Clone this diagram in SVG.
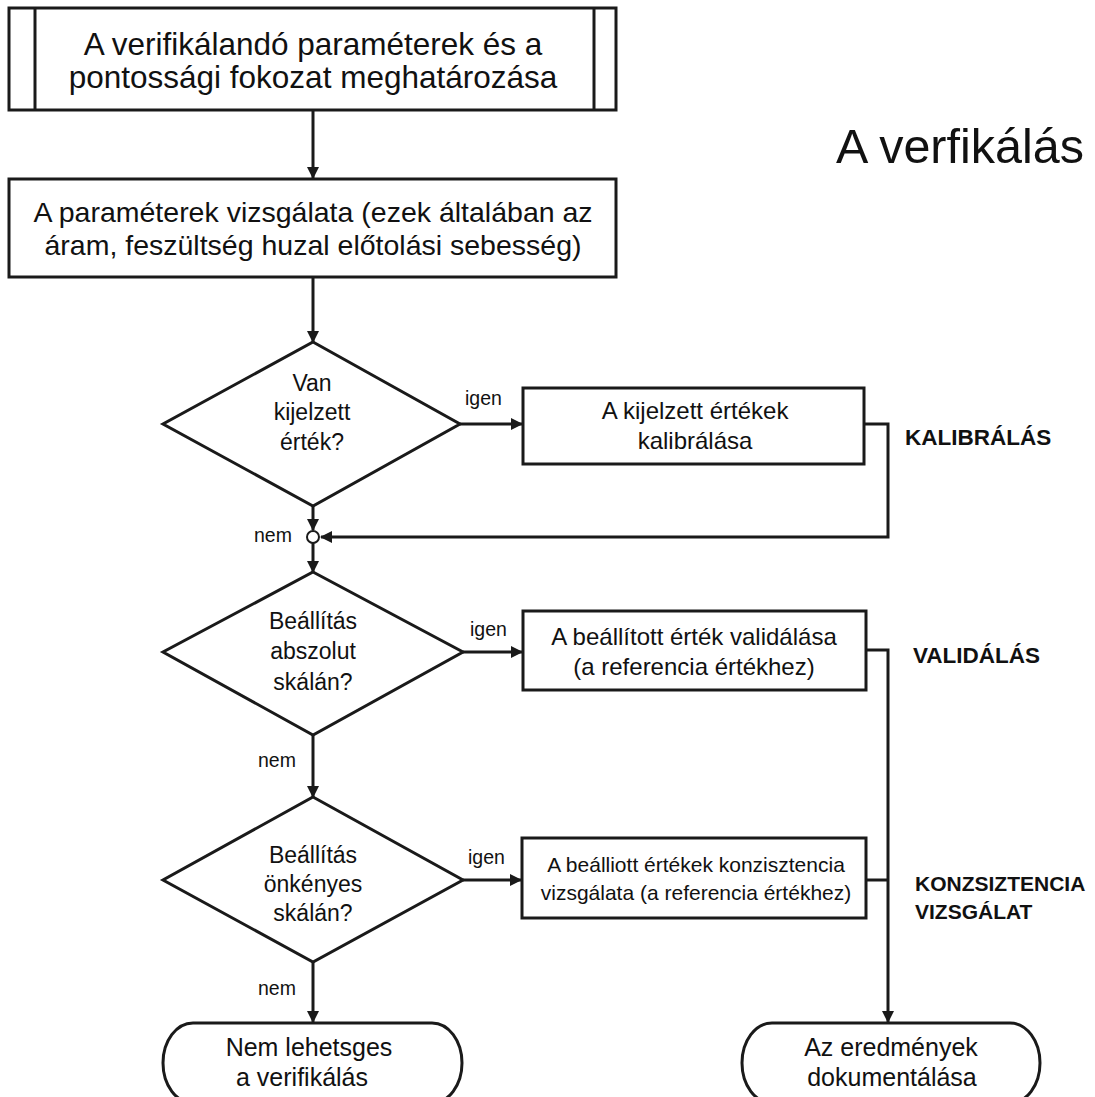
<svg xmlns="http://www.w3.org/2000/svg" width="1095" height="1097" viewBox="0 0 1095 1097">
<defs>
<style>
.s{fill:#fff;stroke:#1a1a1a;stroke-width:3}
.c{fill:none;stroke:#1a1a1a;stroke-width:3}
.t{font-family:"Liberation Sans",Arial,sans-serif;fill:#111;text-anchor:middle}
.l{font-family:"Liberation Sans",Arial,sans-serif;fill:#111;font-size:19.5px}
.b{font-family:"Liberation Sans",Arial,sans-serif;fill:#111;font-size:22.5px;font-weight:bold}
</style>
<marker id="a" markerWidth="12" markerHeight="12" refX="11" refY="6" orient="auto" markerUnits="userSpaceOnUse" viewBox="0 0 12 12">
<path d="M0,0 L12,6 L0,12 Z" fill="#1a1a1a"/>
</marker>
</defs>
<rect width="1095" height="1097" fill="#fff"/>
<g id="connectors">
<line class="c" x1="313" y1="111" x2="313" y2="178" marker-end="url(#a)"/>
<line class="c" x1="313" y1="278" x2="313" y2="342" marker-end="url(#a)"/>
<line class="c" x1="460" y1="424" x2="522" y2="424" marker-end="url(#a)"/>
<polyline class="c" points="864,424 888,424 888,537 321,537" marker-end="url(#a)"/>
<line class="c" x1="313" y1="506" x2="313" y2="530" marker-end="url(#a)"/>
<line class="c" x1="313" y1="543" x2="313" y2="572" marker-end="url(#a)"/>
<line class="c" x1="463" y1="652" x2="522" y2="652" marker-end="url(#a)"/>
<polyline class="c" points="866,650 888,650 888,1022" marker-end="url(#a)"/>
<line class="c" x1="866" y1="880" x2="888" y2="880"/>
<line class="c" x1="313" y1="735" x2="313" y2="797" marker-end="url(#a)"/>
<line class="c" x1="463" y1="880" x2="521" y2="880" marker-end="url(#a)"/>
<line class="c" x1="313" y1="962" x2="313" y2="1022" marker-end="url(#a)"/>
<circle cx="313" cy="537" r="6" fill="#fff" stroke="#1a1a1a" stroke-width="2"/>
<text class="l" x="465" y="405">igen</text>
<text class="l" x="254" y="542">nem</text>
<text class="l" x="470" y="636">igen</text>
<text class="l" x="258" y="767">nem</text>
<text class="l" x="468" y="864">igen</text>
<text class="l" x="258" y="995">nem</text>
</g>
<g id="n1">
<rect class="s" x="9" y="8" width="607" height="102"/>
<line class="c" x1="35" y1="8" x2="35" y2="110"/>
<line class="c" x1="594" y1="8" x2="594" y2="110"/>
<text class="t" x="313" y="55" font-size="31.5">A verifikálandó paraméterek és a</text>
<text class="t" x="313" y="88" font-size="31.5">pontossági fokozat meghatározása</text>
</g>
<g id="title"><text x="836" y="163" font-family="Liberation Sans,Arial,sans-serif" font-size="48.5" fill="#111">A verfikálás</text></g>
<g id="n2">
<rect class="s" x="9" y="179" width="607" height="98"/>
<text class="t" x="313" y="222" font-size="28.5">A paraméterek vizsgálata (ezek általában az</text>
<text class="t" x="313" y="255" font-size="28.5">áram, feszültség huzal előtolási sebesség)</text>
</g>
<g id="d1">
<polygon class="s" points="313,342 460,424 313,506 163,424"/>
<text class="t" x="312" y="391" font-size="23">Van</text>
<text class="t" x="312" y="420" font-size="23">kijelzett</text>
<text class="t" x="312" y="450" font-size="23">érték?</text>
</g>
<g id="n3">
<rect class="s" x="523" y="388" width="341" height="76"/>
<text class="t" x="695" y="419" font-size="24">A kijelzett értékek</text>
<text class="t" x="695" y="449" font-size="24">kalibrálása</text>
</g>
<g id="lab1"><text class="b" x="905" y="445">KALIBRÁLÁS</text></g>
<g id="d2">
<polygon class="s" points="313,572 463,652 313,735 163,652"/>
<text class="t" x="313" y="629" font-size="23">Beállítás</text>
<text class="t" x="313" y="659" font-size="23">abszolut</text>
<text class="t" x="313" y="690" font-size="23">skálán?</text>
</g>
<g id="n4">
<rect class="s" x="523" y="611" width="343" height="79"/>
<text class="t" x="694" y="645" font-size="24">A beállított érték validálása</text>
<text class="t" x="694" y="675" font-size="24">(a referencia értékhez)</text>
</g>
<g id="lab2"><text class="b" x="913" y="663">VALIDÁLÁS</text></g>
<g id="d3">
<polygon class="s" points="313,797 463,880 313,962 163,880"/>
<text class="t" x="313" y="863" font-size="23">Beállítás</text>
<text class="t" x="313" y="892" font-size="23">önkényes</text>
<text class="t" x="313" y="921" font-size="23">skálán?</text>
</g>
<g id="n5">
<rect class="s" x="522" y="838" width="344" height="80"/>
<text class="t" x="696" y="872" font-size="21">A beálliott értékek konzisztencia</text>
<text class="t" x="696" y="900" font-size="21">vizsgálata (a referencia értékhez)</text>
</g>
<g id="lab3">
<text class="b" x="915" y="891" style="font-size:21px">KONZSIZTENCIA</text>
<text class="b" x="915" y="919" style="font-size:21px">VIZSGÁLAT</text>
</g>
<g id="t1">
<rect class="s" x="163" y="1023" width="299" height="80" rx="30" ry="40"/>
<text class="t" x="309" y="1056" font-size="25">Nem lehetsges</text>
<text class="t" x="302" y="1086" font-size="25">a verifikálás</text>
</g>
<g id="t2">
<rect class="s" x="742" y="1023" width="298" height="80" rx="30" ry="40"/>
<text class="t" x="891" y="1056" font-size="25">Az eredmények</text>
<text class="t" x="892" y="1086" font-size="25">dokumentálása</text>
</g>
</svg>
